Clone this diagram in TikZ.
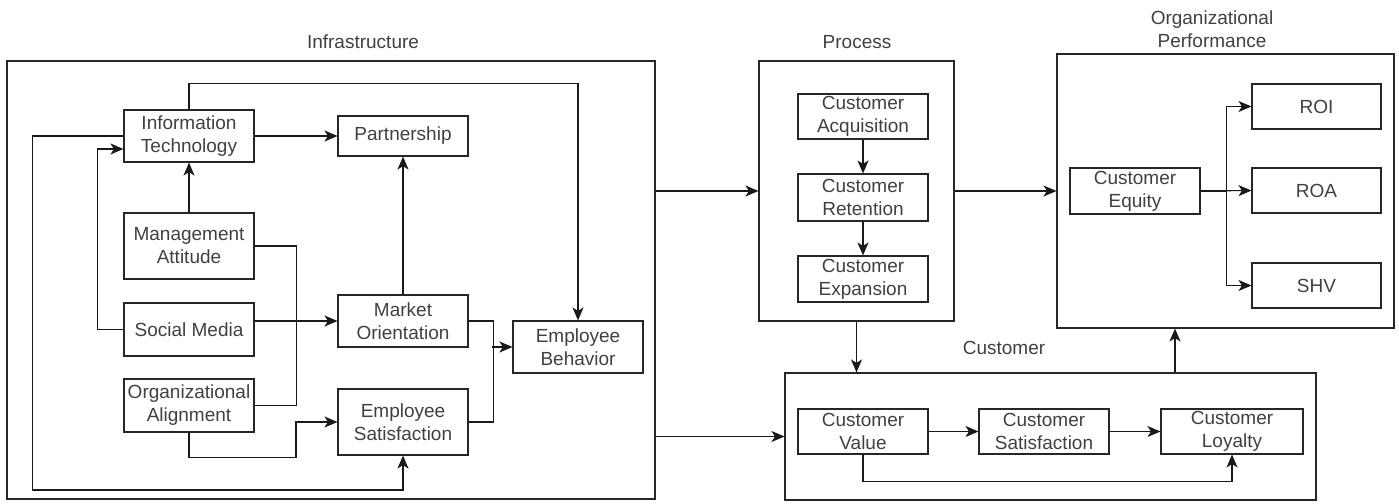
\documentclass[tikz,border=0pt]{standalone}
\usepackage{fontspec}
\setmainfont{Liberation Sans}
\usetikzlibrary{arrows.meta,calc}
\begin{document}
\begin{tikzpicture}[x=1pt,y=-1pt,
  every node/.style={font=\fontsize{19}{23}\selectfont, text=black!75},
  box/.style={draw=black!85, line width=1.1pt, minimum width=130pt, minimum height=#1pt,
              inner sep=0pt, align=center},
  box/.default=52,
  frame/.style={draw=black!85, line width=1.1pt, inner sep=0pt},
  link/.style={draw=black!90, line width=1.1pt},
  arr/.style={link, -{Stealth[length=13pt,width=11pt,inset=3.5pt]}},
  title/.style={align=center}]
\useasboundingbox (0,0) rectangle (1399,503);

% ---------- Infrastructure ----------
\node[frame, minimum width=648pt, minimum height=438pt] (infra) at (331,280) {};
\node[title] (tinfra) at (363,42) {Infrastructure};
\node[box=52] (it)   at (189,136)   {Information\\Technology};
\node[box=40] (part) at (403,136)   {Partnership};
\node[box=66] (ma)   at (189,246)   {Management\\Attitude};
\node[box=53] (sm)   at (189,329.5) {Social Media};
\node[box=53] (oa)   at (189,405.5) {Organizational\\Alignment};
\node[box=52] (mo)   at (403,321)   {Market\\Orientation};
\node[box=66] (es)   at (403,422)   {Employee\\Satisfaction};
\node[box=52] (eb)   at (578,347)   {Employee\\Behavior};

% ---------- Process ----------
\node[frame, minimum width=195pt, minimum height=260pt] (proc) at (856.5,191) {};
\node[title] (tproc) at (857,42) {Process};
\node[box=45] (ca) at (863,116.5) {Customer\\Acquisition};
\node[box=47] (cr) at (863,197.5) {Customer\\Retention};
\node[box=46] (ce) at (863,279)   {Customer\\Expansion};

% ---------- Customer ----------
\node[frame, minimum width=531pt, minimum height=127pt] (cust) at (1050.5,436.5) {};
\node[title] (tcust) at (1004,348) {Customer};
\node[box=45] (cv) at (863,431.5)  {Customer\\Value};
\node[box=45] (cs) at (1044,431.5) {Customer\\Satisfaction};
\node[box=45, minimum width=142pt] (cl) at (1232,431.5) {Customer\\Loyalty};

% ---------- Organizational Performance ----------
\node[frame, minimum width=337pt, minimum height=274pt] (op) at (1225.5,191) {};
\node[title] (top) at (1212,29.5) {Organizational\\Performance};
\node[box=46] (ceq) at (1135,191) {Customer\\Equity};
\node[box=45, minimum width=129pt] (roi) at (1316.5,106.5) {ROI};
\node[box=45, minimum width=129pt] (roa) at (1316.5,190.5) {ROA};
\node[box=45, minimum width=129pt] (shv) at (1316.5,285.5) {SHV};

% ---------- connectors inside Infrastructure ----------
\draw[arr] (it.north) -- ++(0,-26) -| (eb.north);
\draw[arr] (it.east) -- (part.west);
\draw[arr] (it.west) -- ++(-91,0) -- ++(0,354) -| (es.south);
\draw[arr] (sm.west) -- ++(-26,0) |- ($(it.west)+(0,13)$);
\draw[arr] (ma.north) -- (it.south);
\draw[link] (ma.east) -- ++(42,0) |- (oa.east);
\draw[arr] (sm.east |- mo.west) -- (mo.west);
\draw[arr] (oa.south) -- ++(0,25) -- ++(107,0) |- (es.west);
\draw[arr] (mo.north) -- (part.south);
\draw[link] (mo.east) -- ++(25,0) |- (es.east);
\coordinate (join) at ($(eb.west)+(-20,0)$);
\draw[arr] (join) -- (eb.west);

% ---------- connectors between groups ----------
\draw[arr] (infra.east |- proc.west) -- (proc.west);
\draw[arr] (infra.east |- cust.west) -- (cust.west);
\draw[arr] (proc.east) -- (op.west);
\draw[arr] (proc.south) -- (proc.south |- cust.north);
\coordinate (cup) at ($(cust.north)+(124.5,0)$);
\draw[arr] (cup) -- (cup |- op.south);

% ---------- connectors inside Process ----------
\draw[arr] (ca.south) -- (cr.north);
\draw[arr] (cr.south) -- (ce.north);

% ---------- connectors inside Customer ----------
\draw[arr] (cv.east) -- (cs.west);
\draw[arr] (cs.east) -- (cl.west);
\draw[arr] (cv.south) -- ++(0,27) -| (cl.south);

% ---------- connectors inside Organizational Performance ----------
\draw[arr] (ceq.east) -- (roa.west);
\draw[arr] (ceq.east) -- ++(26,0) |- (roi.west);
\draw[arr] (ceq.east) -- ++(26,0) |- (shv.west);
\end{tikzpicture}
\end{document}
